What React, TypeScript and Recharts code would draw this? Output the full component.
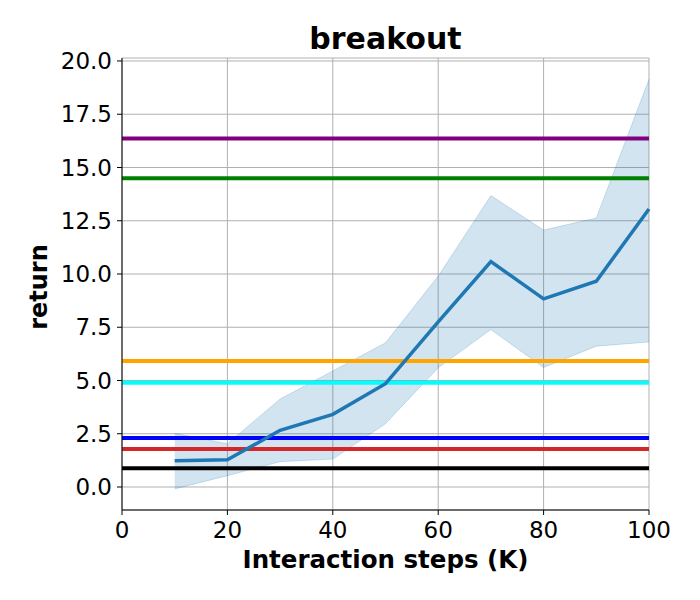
import React from "react";
import {
  ComposedChart,
  Line,
  Area,
  XAxis,
  YAxis,
  CartesianGrid,
  ReferenceLine,
  Label,
} from "recharts";

// interaction steps (K)
const steps = [10, 20, 30, 40, 50, 60, 70, 80, 90, 100];
const meanReturn = [1.23, 1.28, 2.66, 3.41, 4.85, 7.75, 10.58, 8.83, 9.66, 13.05];
const upperReturn = [2.52, 2.03, 4.13, 5.45, 6.77, 9.9, 13.68, 12.06, 12.63, 19.14];
const lowerReturn = [-0.09, 0.53, 1.19, 1.31, 2.97, 5.6, 7.39, 5.61, 6.61, 6.81];

// baseline scores drawn as flat lines
const baselineValues = [16.36, 14.5, 5.91, 4.89, 2.3, 1.78, 0.875];
const baselineColors = ["#800080", "#008000", "#ffa500", "#00ffff", "#0000ff", "#d62728", "#000000"];

const xTicks = [0, 20, 40, 60, 80, 100];
const yTicks = [0, 2.5, 5, 7.5, 10, 12.5, 15, 17.5, 20];

const FONT = "DejaVu Sans, sans-serif";
const MEAN_COLOR = "#1f77b4";
const PLOT_TOP = 58;

const data = steps.map((s, i) => ({
  step: s,
  mean: meanReturn[i],
  band: [lowerReturn[i], upperReturn[i]],
}));

export default function App() {
  const tickStyle = { fill: "#000", fontSize: 23, fontFamily: FONT };

  return (
    <div style={{ position: "absolute", left: 0, top: 0, width: 700, height: 600, background: "#fff" }}>
      <ComposedChart
        width={700}
        height={600}
        data={data}
        margin={{ top: PLOT_TOP, right: 51, bottom: 0, left: 0 }}
      >
        <CartesianGrid stroke="#b0b0b0" strokeWidth={1} />
        <XAxis
          dataKey="step"
          type="number"
          domain={[0, 100]}
          ticks={xTicks}
          height={90}
          tick={tickStyle}
          tickSize={5}
          tickMargin={7}
          tickLine={{ stroke: "#000" }}
          axisLine={{ stroke: "#000" }}
        >
          <Label
            content={({ viewBox }: any) => {
              const cx = viewBox.x + viewBox.width / 2;
              return (
                <g>
                  <text
                    x={cx}
                    y={viewBox.y + 58}
                    textAnchor="middle"
                    fontFamily={FONT}
                    fontWeight="bold"
                    fontSize={24.5}
                    fill="#000"
                  >
                    Interaction steps (K)
                  </text>
                  {/* chart title above the plot */}
                  <text
                    x={cx}
                    y={PLOT_TOP - 9}
                    textAnchor="middle"
                    fontFamily={FONT}
                    fontWeight="bold"
                    fontSize={30}
                    fill="#000"
                  >
                    breakout
                  </text>
                </g>
              );
            }}
          />
        </XAxis>
        <XAxis
          xAxisId="top"
          orientation="top"
          type="number"
          domain={[0, 100]}
          height={0}
          tick={false}
          tickLine={false}
          axisLine={{ stroke: "#000" }}
        />
        <YAxis
          type="number"
          domain={[-1.08, 20.14]}
          allowDataOverflow
          ticks={yTicks}
          width={122}
          tick={tickStyle}
          tickSize={5}
          tickMargin={5}
          tickLine={{ stroke: "#000" }}
          axisLine={{ stroke: "#000" }}
          tickFormatter={(v: number) => v.toFixed(1)}
        >
          <Label
            content={({ viewBox }: any) => {
              const cx = 47;
              const cy = viewBox.y + viewBox.height / 2 + 3;
              return (
                <text
                  x={cx}
                  y={cy}
                  transform={`rotate(-90, ${cx}, ${cy})`}
                  textAnchor="middle"
                  fontFamily={FONT}
                  fontWeight="bold"
                  fontSize={24}
                  fill="#000"
                >
                  return
                </text>
              );
            }}
          />
        </YAxis>
        <YAxis
          yAxisId="right"
          orientation="right"
          type="number"
          domain={[-1.08, 20.14]}
          width={0}
          tick={false}
          tickLine={false}
          axisLine={{ stroke: "#000" }}
        />
        <Area
          dataKey="band"
          type="linear"
          fill={MEAN_COLOR}
          fillOpacity={0.2}
          stroke={MEAN_COLOR}
          strokeOpacity={0.2}
          strokeWidth={1}
          isAnimationActive={false}
          activeDot={false}
        />
        {baselineValues.map((v, i) => (
          <ReferenceLine key={i} y={v} stroke={baselineColors[i]} strokeWidth={4} />
        ))}
        <Line
          dataKey="mean"
          type="linear"
          stroke={MEAN_COLOR}
          strokeWidth={3.5}
          dot={false}
          activeDot={false}
          isAnimationActive={false}
        />
      </ComposedChart>
    </div>
  );
}
